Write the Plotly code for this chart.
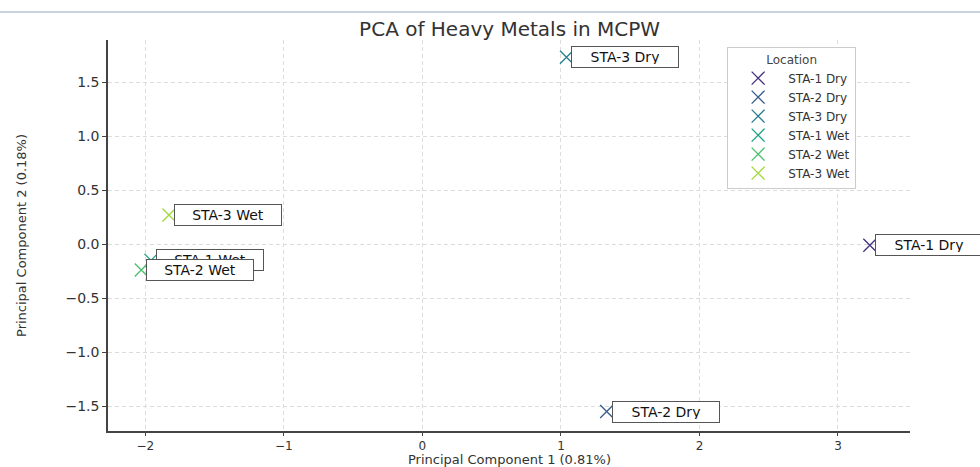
import plotly.graph_objects as go

# PCA scores per sampling location / season
locations = ["STA-1 Dry", "STA-2 Dry", "STA-3 Dry", "STA-1 Wet", "STA-2 Wet", "STA-3 Wet"]
pc1 = [3.23, 1.33, 1.04, -1.96, -2.03, -1.83]
pc2 = [-0.01, -1.55, 1.73, -0.15, -0.24, 0.27]
colors = ["#46327e", "#365c8d", "#277f8e", "#1fa187", "#4ac16d", "#a0da39"]

x_ticks = [-2, -1, 0, 1, 2, 3]
x_ticktext = ["\u22122", "\u22121", "0", "1", "2", "3"]
y_ticks = [-1.5, -1.0, -0.5, 0.0, 0.5, 1.0, 1.5]
y_ticktext = ["\u22121.5", "\u22121.0", "\u22120.5", "0.0", "0.5", "1.0", "1.5"]

FONT = "DejaVu Sans"
TEXT = "#333333"
PLOT_H = 467 - 40 - 36

fig = go.Figure()
for name, x, y, c in zip(locations, pc1, pc2, colors):
    fig.add_trace(go.Scatter(
        x=[x], y=[y], mode="markers", name=name,
        marker=dict(symbol="x-thin", size=13, line=dict(color=c, width=1.3), color=c),
    ))
    # boxed point label to the right of each score
    fig.add_annotation(
        x=x, y=y, text=name, showarrow=False, xanchor="left", yanchor="middle",
        xshift=5, width=100, height=14, align="center",
        font=dict(family=FONT, size=14, color="#111111"),
        bgcolor="white", bordercolor="#555555", borderwidth=1, borderpad=3,
    )

# x-axis title sits just under the tick labels
fig.add_annotation(
    text="Principal Component 1 (0.81%)", xref="paper", yref="paper",
    x=0.5, y=0, xanchor="center", yanchor="top", yshift=-19, showarrow=False,
    font=dict(family=FONT, size=13, color=TEXT),
)

fig.update_layout(
    width=980, height=467,
    margin=dict(l=108, r=70, t=40, b=36),
    paper_bgcolor="white", plot_bgcolor="white",
    font=dict(family=FONT, size=13, color=TEXT),
    title=dict(text="PCA of Heavy Metals in MCPW", x=0.52, xanchor="center",
               y=1 - 29 / 467, yanchor="middle",
               font=dict(family=FONT, size=20, color=TEXT)),
    legend=dict(
        title=dict(text="Location", side="top center", font=dict(family=FONT, size=12, color="#444444")),
        x=0.772, y=0.982, xanchor="left", yanchor="top",
        bgcolor="white", bordercolor="#cccccc", borderwidth=1,
        font=dict(family=FONT, size=12, color=TEXT),
        itemwidth=50, tracegroupgap=0,
    ),
    shapes=[dict(type="line", xref="paper", yref="paper",
                 x0=-0.2, x1=1.2, y0=1 + 28 / PLOT_H, y1=1 + 28 / PLOT_H,
                 line=dict(color="#b8c4d6", width=1.5))],
)

GRID = dict(showgrid=True, gridcolor="#dcdcdc", griddash="4px,3px", gridwidth=1,
            zeroline=False, showline=True, linecolor="#444444", linewidth=1.5,
            ticks="outside", tickcolor="#444444", automargin=False)

fig.update_xaxes(
    range=[-2.27, 3.52], tickvals=x_ticks, ticktext=x_ticktext, ticklen=3,
    tickfont=dict(family=FONT, size=12, color=TEXT),
    **GRID,
)
fig.update_yaxes(
    range=[-1.73, 1.89], tickvals=y_ticks, ticktext=y_ticktext, ticklen=4,
    tickfont=dict(family=FONT, size=14, color=TEXT),
    title=dict(text="Principal Component 2 (0.18%)", standoff=36,
               font=dict(family=FONT, size=13, color=TEXT)),
    **GRID,
)

fig.write_html("out.html")
